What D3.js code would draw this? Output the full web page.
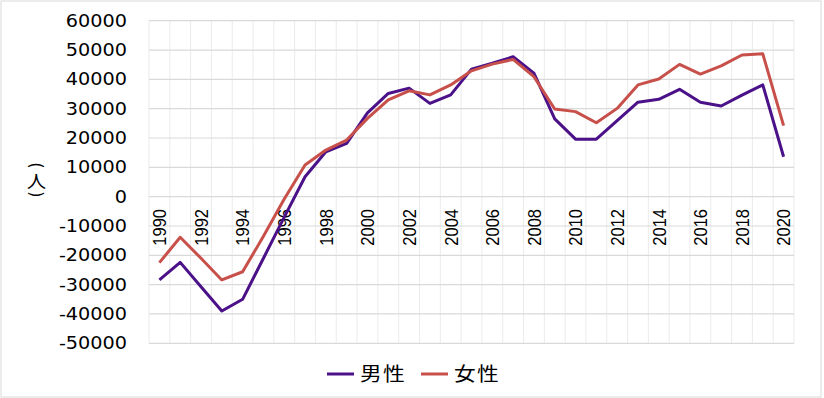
<!DOCTYPE html>
<html>
<head>
<meta charset="utf-8">
<script src="https://cdn.jsdelivr.net/npm/d3@7"></script>
<style>
	body { margin:0; background:#fff; }
	svg { display:block; }
</style>
</head>
<body>
<div id="chart"></div>
<script>
/* net migration by sex, 1990-2020 */
const years = d3.range(1990, 2021)
const male = [
	-28400, -22400, -30700, -39000, -35000, -21000, -7000, 6800, 15300, 18200,
	28600, 35200, 37000, 31800, 34700, 43500, 45500, 47700, 42100, 26500,
	19600, 19600, 25900, 32200, 33200, 36600, 32200, 30900, 34600, 38100,
	13600]
const female = [
	-22500, -13850, -21000, -28400, -25600, -13500, -800, 10800, 15900, 19300,
	26700, 33000, 36100, 34700, 38100, 42900, 45200, 46800, 40900, 29900,
	29000, 25200, 30100, 38100, 40100, 45100, 41800, 44600, 48300, 48700,
	24200]
const yTicks = d3.range(-50000, 60001, 10000)
const seriesNames = ['男性', '女性']
const seriesColors = ['#4b1188', '#c8504b']

const width = 824
const height = 398
const margin = {left:149, right:30, top:20.7, bottom:54.7}
//text in the reference is a bit wider than tall
const STRETCH = 1.145

const svg = d3.select('#chart').append('svg')
	.attr('width', width)
	.attr('height', height)

//outer frame
svg.append('rect')
	.attr('x', 1).attr('y', 1)
	.attr('width', 820).attr('height', 396)
	.attr('fill', '#fff')
	.attr('stroke', '#d9d9d9')

const x = d3.scaleBand()
	.domain(years)
	.range([margin.left, width - margin.right])
	.padding(0)
const y = d3.scaleLinear()
	.domain([-50000, 60000])
	.range([height - margin.bottom, margin.top])
const cx = function(d) { return x(d) + x.bandwidth() / 2 }

//vertical grid, on band edges
const edges = years.map(function(d) { return x(d) }).concat([x.range()[1]])
svg.append('g').selectAll('line')
	.data(edges)
	.join('line')
	.attr('x1', function(d) { return d }).attr('x2', function(d) { return d })
	.attr('y1', y(60000)).attr('y2', y(-50000))
	.attr('stroke', '#ebebeb')
	.attr('stroke-width', 1)

//horizontal grid
svg.append('g').selectAll('line')
	.data(yTicks)
	.join('line')
	.attr('x1', x.range()[0]).attr('x2', x.range()[1])
	.attr('y1', function(d) { return y(d) }).attr('y2', function(d) { return y(d) })
	.attr('stroke', '#d9d9d9')
	.attr('stroke-width', 1.2)

//y tick labels
svg.append('g').selectAll('g')
	.data(yTicks)
	.join('g')
	.attr('transform', function(d) { return `translate(127,${y(d)}) scale(${STRETCH},1)` })
	.append('text')
	.attr('text-anchor', 'end')
	.attr('dy', '0.36em')
	.style('font-family', '"DejaVu Sans", Verdana, sans-serif')
	.style('font-size', '16.8px')
	.style('fill', '#000')
	.text(function(d) { return d })

//x tick labels, every other year, rotated
svg.append('g').selectAll('g')
	.data(years.filter(function(d) { return d % 2 === 0 }))
	.join('g')
	.attr('transform', function(d) { return `translate(${cx(d)},209) scale(${STRETCH},1) rotate(-90)` })
	.append('text')
	.attr('text-anchor', 'end')
	.attr('dy', '0.36em')
	.style('font-family', '"Liberation Sans", Arial, sans-serif')
	.style('font-size', '16.5px')
	.style('fill', '#000')
	.text(function(d) { return d })

//y axis title, written vertically: parens turned on their side around 人
const titleG = svg.append('g')
	.attr('transform', `translate(36.5,0)`)
titleG.selectAll('g')
	.data([['(', 165.5, 90], ['人', 180.5, 0], [')', 194.5, 90]])
	.join('g')
	.attr('transform', function(d) { return `translate(0,${d[1]}) scale(${STRETCH},1) rotate(${d[2]})` })
	.append('text')
	.attr('text-anchor', 'middle')
	.attr('dominant-baseline', 'central')
	.style('font-family', function(d) { return d[2] ? '"DejaVu Sans", sans-serif' : '"Noto Sans CJK JP", sans-serif' })
	.style('font-size', function(d) { return d[2] ? '16px' : '17px' })
	.style('fill', '#000')
	.text(function(d) { return d[0] })

//lines
const line = d3.line()
	.x(function(d) { return cx(d[0]) })
	.y(function(d) { return y(d[1]) })
const series = [male, female]
svg.append('g').selectAll('path')
	.data(series)
	.join('path')
	.attr('fill', 'none')
	.attr('stroke', function(d, i) { return seriesColors[i] })
	.attr('stroke-width', 3)
	.attr('stroke-linejoin', 'round')
	.attr('d', function(d) { return line(years.map(function(yr, i) { return [yr, d[i]] })) })

//legend
const legendX = [327, 421]
const legend = svg.append('g').selectAll('g')
	.data(seriesNames)
	.join('g')
	.attr('transform', function(d, i) { return `translate(${legendX[i]},374)` })
legend.append('line')
	.attr('x1', 0).attr('x2', 27)
	.attr('stroke', function(d, i) { return seriesColors[i] })
	.attr('stroke-width', 3)
legend.append('g')
	.attr('transform', `translate(33,0) scale(${STRETCH},1)`)
	.append('text')
	.attr('dy', '0.36em')
	.style('font-family', '"Noto Sans CJK JP", sans-serif')
	.style('font-size', '19px')
	.style('letter-spacing', '1px')
	.style('fill', '#000')
	.text(function(d) { return d })
</script>
</body>
</html>
